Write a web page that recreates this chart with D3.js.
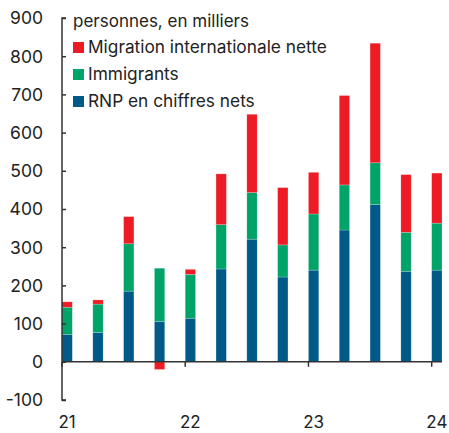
<!DOCTYPE html>
<html>
<head>
<meta charset="utf-8">
<script src="https://cdn.jsdelivr.net/npm/d3@7"></script>
<style>
  html, body { margin: 0; padding: 0; background: #fff; }
  svg { display: block; font-family: Inter, Lato, "Noto Sans", sans-serif; }
</style>
</head>
<body>
<svg id="chart" width="449" height="433"></svg>
<script>
const quarters = ["2021T1","2021T2","2021T3","2021T4","2022T1","2022T2","2022T3","2022T4","2023T1","2023T2","2023T3","2023T4","2024T1"];
const rnp        = [72, 77, 185, 106, 114, 243, 321, 222, 240, 345, 412, 237, 240];
const immigrants = [71, 74, 124, 139, 115, 116, 122,  84, 147, 118, 109, 102, 123];
const migration  = [14, 11,  71, -20,  13, 133, 205, 150, 109, 234, 313, 151, 131];
const yTicks = [-100, 0, 100, 200, 300, 400, 500, 600, 700, 800, 900];
const yearTicks = ["2021T1","2022T1","2023T1","2024T1"];
const yearLabels = ["21","22","23","24"];
const seriesKeys = ["rnp","immigrants","migration"];
const seriesNames = {migration: "Migration internationale nette", immigrants: "Immigrants", rnp: "RNP en chiffres nets"};
const colors = {migration: "#ED1C24", immigrants: "#00A469", rnp: "#005A87"};
const legendOrder = ["migration","immigrants","rnp"];
const unitLabel = "personnes, en milliers";

const rows = quarters.map((q, i) => ({q, rnp: rnp[i], immigrants: immigrants[i], migration: migration[i]}));

const svg = d3.select("#chart");
const axisColor = "#333";
const textColor = "#222";

const x = d3.scaleBand().domain(quarters).range([62, 442]).paddingInner(0.665).paddingOuter(0).align(0);
const y = d3.scaleLinear().domain([-100, 900]).range([400, 18]);

const stack = d3.stack().keys(seriesKeys).offset(d3.stackOffsetDiverging);
const stacked = stack(rows);

svg.append("g").selectAll("g").data(stacked).join("g")
  .attr("fill", d => colors[d.key])
  .selectAll("rect").data(d => d).join("rect")
  .attr("x", d => x(d.data.q))
  .attr("width", x.bandwidth())
  .attr("y", d => y(Math.max(d[0], d[1])))
  .attr("height", d => Math.abs(y(d[0]) - y(d[1])))
  .attr("stroke", "rgba(255,255,255,0.35)")
  .attr("stroke-width", 0.6);

// Y axis
const yAxis = d3.axisRight(y).tickValues(yTicks).tickSize(4).tickFormat("");
const gy = svg.append("g").attr("transform", "translate(62,0)").call(yAxis);
gy.select(".domain").attr("d", `M4,${y(-100)}H0V${y(900)}H4`).attr("stroke", axisColor).attr("stroke-width", 1.5);
gy.selectAll(".tick line").attr("stroke", axisColor).attr("stroke-width", 1.5);

svg.append("g").selectAll("text").data(yTicks).join("text")
  .attr("x", 43).attr("y", d => y(d)).attr("dy", "0.36em")
  .attr("text-anchor", "end").attr("font-size", 17.5).attr("fill", textColor)
  .text(d => d);

// X axis at zero
const xAxis = d3.axisBottom(x).tickValues(yearTicks).tickSize(5).tickFormat("");
const gx = svg.append("g").attr("transform", `translate(0,${y(0)})`).call(xAxis);
gx.select(".domain").attr("d", `M62,0H442`).attr("stroke", axisColor).attr("stroke-width", 1.5);
gx.selectAll(".tick").attr("transform", d => `translate(${x(d)},0)`);
gx.selectAll(".tick line").attr("stroke", axisColor).attr("stroke-width", 1.5);

svg.append("g").selectAll("text").data(yearTicks).join("text")
  .attr("x", d => x(d) + x.bandwidth() / 2).attr("y", 428)
  .attr("text-anchor", "middle").attr("font-size", 17).attr("fill", textColor)
  .text((d, i) => yearLabels[i]);

// Legend
svg.append("text").attr("x", 73).attr("y", 27).attr("font-size", 17).attr("fill", textColor).text(unitLabel);
const lg = svg.append("g").selectAll("g").data(legendOrder).join("g")
  .attr("transform", (d, i) => `translate(73,${53 + i * 27})`);
lg.append("rect").attr("x", 0).attr("y", -11).attr("width", 11).attr("height", 11).attr("fill", d => colors[d]);
lg.append("text").attr("x", 15).attr("y", 0).attr("font-size", 17.3).attr("fill", textColor).text(d => seriesNames[d]);
</script>
</body>
</html>
